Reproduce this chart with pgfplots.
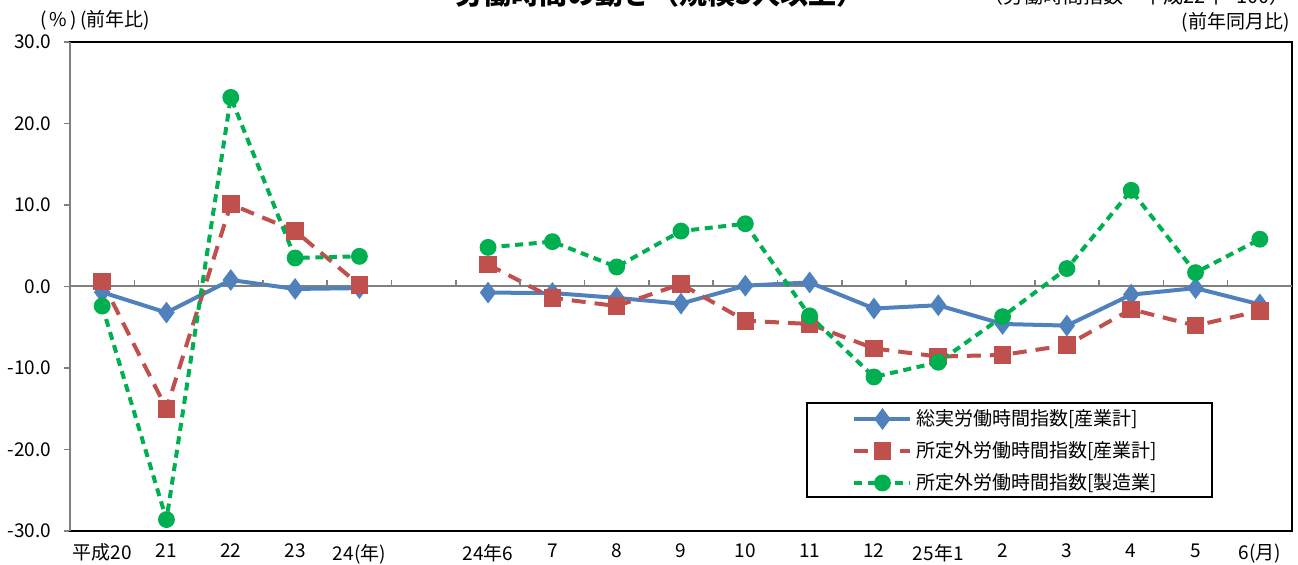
\documentclass[border=0pt]{standalone}
\usepackage{fontspec}
\setmainfont{Noto Sans CJK JP}
\usepackage{pgfplots}
\usepackage{pgfplotstable}
\pgfplotsset{compat=1.18}
\definecolor{cblue}{RGB}{79,129,189}
\definecolor{cred}{RGB}{192,80,77}
\definecolor{cgreen}{RGB}{0,176,80}
\definecolor{axgray}{RGB}{128,128,128}
\pgfplotstableread{
x blue red green
0 -0.7 0.6 -2.4
1 -3.2 -15.0 -28.6
2 0.8 10.1 23.2
3 -0.3 6.8 3.5
4 -0.2 0.2 3.7
}\annual
\pgfplotstableread{
x blue red green
6 -0.75 2.7 4.8
7 -0.8 -1.4 5.5
8 -1.4 -2.4 2.4
9 -2.1 0.3 6.8
10 0.1 -4.2 7.7
11 0.5 -4.6 -3.6
12 -2.7 -7.6 -11.1
13 -2.3 -8.6 -9.3
14 -4.6 -8.4 -3.7
15 -4.8 -7.2 2.2
16 -1.0 -2.8 11.8
17 -0.2 -4.8 1.7
18 -2.2 -3.0 5.8
}\monthly
\begin{document}
\begin{tikzpicture}
\useasboundingbox (0,0) rectangle (649pt,282.5pt);
\begin{axis}[
  at={(35pt,17pt)}, anchor=south west,
  scale only axis, width=611pt, height=244.5pt,
  xmin=-0.5, xmax=18.5, ymin=-30, ymax=30,
  xtick={0,1,2,3,4,6,7,8,9,10,11,12,13,14,15,16,17,18},
  xticklabels={平成20,21,22,23,24(年),24年6,7,8,9,10,11,12,25年1,2,3,4,5,6(月)},
  xtick style={draw=none},
  ytick={-30,-20,-10,0,10,20,30},
  ytick pos=left, tick align=outside,
  ytick style={draw=axgray, line width=0.8pt},
  major tick length=3pt,
  yticklabel style={xshift=-3pt, /pgf/number format/.cd, fixed, fixed zerofill, precision=1, assume math mode=true},
  xticklabel style={yshift=0pt},
  ticklabel style={font=\fontsize{9.5}{11}\selectfont},
  axis line style={black, line width=0.9pt},
  extra y ticks={0}, extra y tick labels={},
  extra y tick style={grid=major, major grid style={axgray, line width=1pt}, tick style={draw=none}},
  legend image code/.code={\draw[mark repeat=2,mark phase=2] plot coordinates {(0pt,0pt) (14pt,0pt) (28pt,0pt)};},
  legend style={at={(rel axis cs:0.640,0.1636)}, anchor=west, draw=none, fill=none, inner sep=0pt,
    font=\fontsize{9.5}{11}\selectfont, row sep=2.5pt},
  legend cell align=left,
  clip=false,
]
\addplot[cblue, line width=2pt, mark=diamond*, mark size=3.8pt, mark options={solid}] table[x=x,y=blue] {\annual};
\addlegendentry{総実労働時間指数[産業計]}
\addplot[cred, line width=2pt, dash pattern=on 7pt off 4.5pt, mark=square*, mark size=3.4pt, mark options={solid}] table[x=x,y=red] {\annual};
\addlegendentry{所定外労働時間指数[産業計]}
\addplot[cgreen, line width=2pt, dash pattern=on 4pt off 2.8pt, mark=*, mark size=3.2pt, mark options={solid}] table[x=x,y=green] {\annual};
\addlegendentry{所定外労働時間指数[製造業]}
\addplot[forget plot, cblue, line width=2pt, mark=diamond*, mark size=3.8pt, mark options={solid}] table[x=x,y=blue] {\monthly};
\addplot[forget plot, cred, line width=2pt, dash pattern=on 7pt off 4.5pt, mark=square*, mark size=3.4pt, mark options={solid}] table[x=x,y=red] {\monthly};
\addplot[forget plot, cgreen, line width=2pt, dash pattern=on 4pt off 2.8pt, mark=*, mark size=3.2pt, mark options={solid}] table[x=x,y=green] {\monthly};
\pgfplotsinvokeforeach{0.5,1.5,2.5,3.5,4.5,5.5,6.5,7.5,8.5,9.5,10.5,11.5,12.5,13.5,14.5,15.5,16.5,17.5}{
  \draw[axgray, line width=0.8pt] (axis cs:#1,0) -- ([yshift=3pt]axis cs:#1,0);
}
\draw[axgray, line width=1pt] (rel axis cs:0,0) -- (rel axis cs:0,1);
\draw[black, line width=0.9pt] (rel axis cs:0.6031,0.0695) rectangle (rel axis cs:0.9345,0.2618);
\end{axis}
\node[anchor=center, font=\bfseries\fontsize{14}{16}\selectfont] at (330pt,285.5pt) {労働時間の動き（規模5人以上）};
\node[anchor=east, font=\fontsize{10}{12}\selectfont, inner sep=0pt] at (645pt,284.5pt) {（労働時間指数　平成22年=100）};
\node[anchor=east, font=\fontsize{9.5}{11}\selectfont, inner sep=0pt] at (645pt,271.5pt) {(前年同月比)};
\node[anchor=west, font=\fontsize{9.5}{11}\selectfont, inner sep=0pt] at (20pt,272.5pt) {(\,\%\,)\,(前年比)};
\end{tikzpicture}
\end{document}
